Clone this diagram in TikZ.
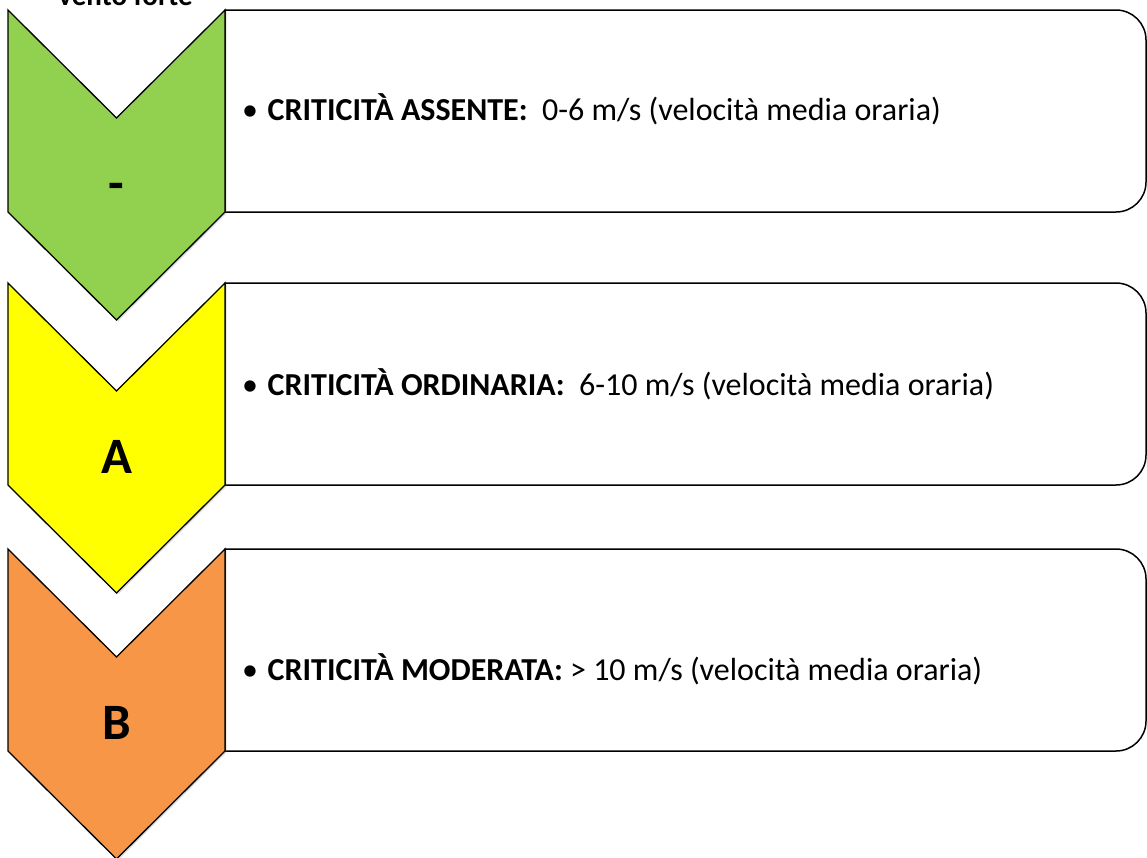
\documentclass[tikz,border=0pt]{standalone}
\usepackage{fontspec}
\setmainfont{Carlito}
\usetikzlibrary{shadows}
\definecolor{verde}{HTML}{92D050}
\definecolor{giallo}{HTML}{FFFF00}
\definecolor{arancio}{HTML}{F79646}

\begin{document}
\begin{tikzpicture}[x=1pt,y=-1pt,
    freccia/.style={draw=black,line width=1.3pt,line join=miter,
      drop shadow={shadow xshift=1.5pt,shadow yshift=-1.5pt,opacity=0.25}},
    riquadro/.style={draw=black,line width=1.5pt,fill=white},
    voce/.style={anchor=base west,inner sep=0pt,font=\fontsize{32}{38}\selectfont},
    livello/.style={anchor=base,inner sep=0pt,font=\fontsize{51}{60}\selectfont\bfseries}]
    \useasboundingbox (0,0) rectangle (1147,857);
    \node[anchor=base,inner sep=0pt,font=\fontsize{29}{34}\selectfont\bfseries] (titolo) at (125.5,5) {vento forte};

    \foreach \t/\c/\l/\b/\crit/\val [count=\i] in {
      10/verde/-/120/ASSENTE:/{~~0-6 m/s (velocità media oraria)},
      283/giallo/A/395/ORDINARIA:/{~~6-10 m/s (velocità media oraria)},
      549/arancio/B/680/MODERATA:/{~> 10 m/s (velocità media oraria)}}
    {
    \draw[riquadro] (225,\t) -- (1116,\t) arc[start angle=-90,end angle=0,radius=30]
      -- (1146,\t+172) arc[start angle=0,end angle=90,radius=30] -- (225,\t+202) -- cycle;
    \draw[freccia,fill=\c] (8,\t) -- (116.5,\t+108) -- (225,\t) -- (225,\t+202)
      -- (116.5,\t+310) -- (8,\t+202) -- cycle;
    \node[livello] (lv\i) at (116.5,\t+190) {\l};
    \node[voce] (txt\i) at (242,\b) {\textbullet\hspace{0.3em}\textbf{CRITICITÀ \crit}\val};
    }
\end{tikzpicture}
\end{document}
